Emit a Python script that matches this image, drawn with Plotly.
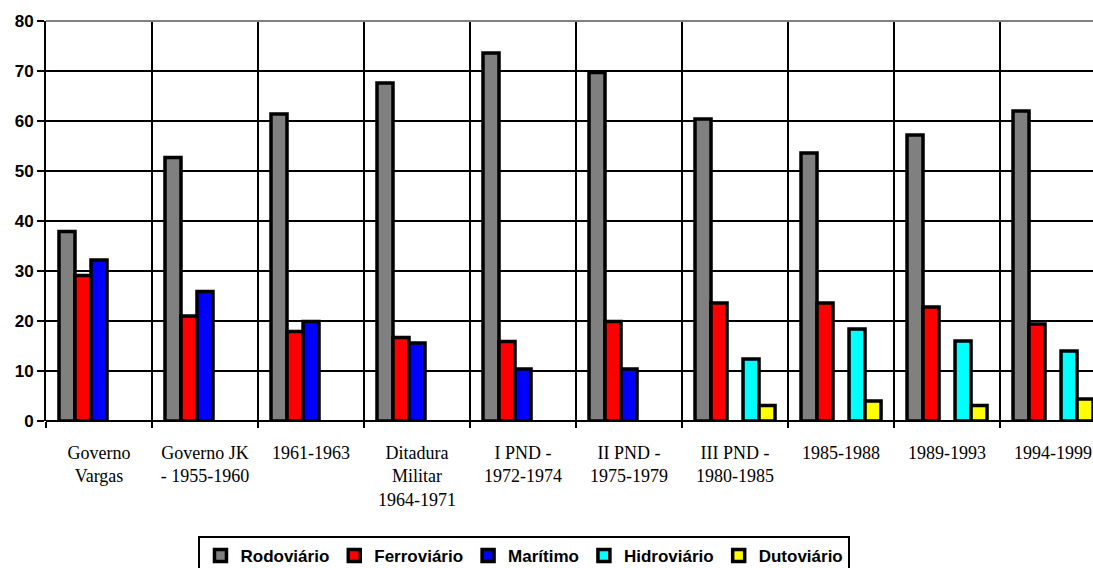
import plotly.graph_objects as go

# Periods (x categories)
periods = [
    "Governo<br>Vargas",
    "Governo JK<br>- 1955-1960",
    "1961-1963",
    "Ditadura<br>Militar<br>1964-1971",
    "I PND -<br>1972-1974",
    "II PND -<br>1975-1979",
    "III PND -<br>1980-1985",
    "1985-1988",
    "1989-1993",
    "1994-1999",
]

# Share of each transport mode (%)
rodoviario = [37.9, 52.7, 61.4, 67.6, 73.6, 69.7, 60.4, 53.6, 57.2, 62.0]
ferroviario = [29.1, 21.0, 17.9, 16.7, 15.9, 19.9, 23.6, 23.6, 22.8, 19.4]
maritimo = [32.2, 25.9, 19.9, 15.6, 10.4, 10.4, None, None, None, None]
hidroviario = [None, None, None, None, None, None, 12.4, 18.4, 16.0, 14.0]
dutoviario = [None, None, None, None, None, None, 3.1, 4.0, 3.1, 4.4]

series = [
    ("Rodoviário", rodoviario, "#808080"),
    ("Ferroviário", ferroviario, "#FF0000"),
    ("Marítimo", maritimo, "#0000FF"),
    ("Hidroviário", hidroviario, "#00FFFF"),
    ("Dutoviário", dutoviario, "#FFFF00"),
]

fig = go.Figure()
for name, values, color in series:
    fig.add_trace(go.Bar(
        x=periods,
        y=values,
        name=name,
        marker=dict(color=color, line=dict(color="black", width=3.5)),
    ))

fig.update_layout(
    width=1093,
    height=568,
    margin=dict(l=46, r=0, t=21, b=147, autoexpand=False),
    paper_bgcolor="white",
    plot_bgcolor="white",
    barmode="group",
    bargap=0.245,
    bargroupgap=0,
    showlegend=True,
    legend=dict(
        orientation="h",
        x=0.457,
        xanchor="center",
        y=-0.2875,
        yanchor="top",
        bordercolor="black",
        borderwidth=2,
        bgcolor="white",
        font=dict(family="Liberation Sans", size=17, color="black", weight="bold"),
        itemwidth=30,
        tracegroupgap=0,
    ),
    xaxis=dict(
        type="category",
        range=[-0.5, 9.377],
        tickson="boundaries",
        showgrid=True,
        gridcolor="black",
        gridwidth=2,
        ticks="outside",
        ticklen=6,
        tickwidth=2,
        tickcolor="black",
        showline=False,
        tickfont=dict(family="Liberation Serif", size=18, color="black"),
        ticklabelstandoff=19,
        tickangle=0,
        automargin=False,
        fixedrange=True,
    ),
    yaxis=dict(
        range=[0, 80],
        dtick=10,
        showgrid=True,
        gridcolor="black",
        gridwidth=2,
        zeroline=True,
        zerolinecolor="black",
        zerolinewidth=2,
        showline=True,
        linecolor="black",
        linewidth=2,
        ticks="outside",
        ticklen=7,
        tickwidth=2,
        tickcolor="black",
        tickfont=dict(family="Liberation Sans", size=17, color="black", weight="bold"),
        automargin=False,
        fixedrange=True,
    ),
    shapes=[
        # grey frame line along the top of the plot area
        dict(type="line", xref="paper", yref="paper", x0=0, x1=1, y0=1, y1=1,
             line=dict(color="#808080", width=2), layer="above"),
    ],
)

fig.write_html("out.html")
